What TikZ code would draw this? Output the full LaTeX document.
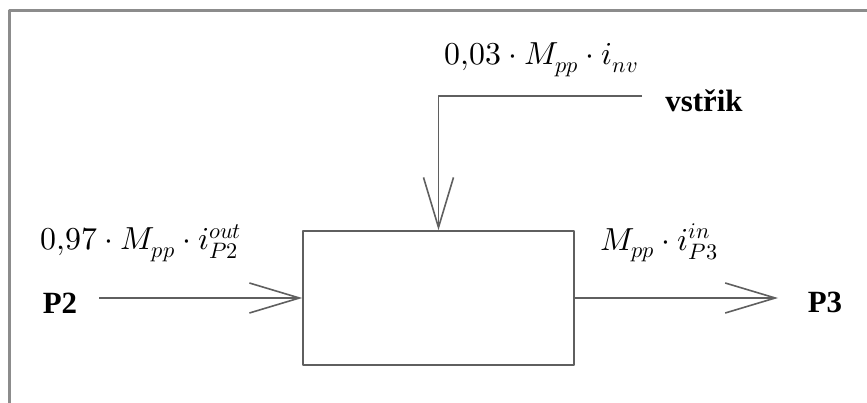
\documentclass[tikz,border=0pt]{standalone}
\usepackage{fontspec}
\usepackage{unicode-math}
\setmainfont{Liberation Serif}
\setmathfont{Latin Modern Math}
\usetikzlibrary{arrows.meta}
\definecolor{linegray}{RGB}{95,95,95}
\definecolor{framegray}{RGB}{140,140,140}
\tikzset{
  flow/.style={draw=linegray,line width=1.6bp,-{Straight Barb[length=50bp,width=30bp,line width=1.6bp]}},
  blocknode/.style={draw=linegray,line width=1.6bp,minimum width=271bp,minimum height=134bp,inner sep=0pt},
  portlabel/.style={font=\fontsize{31}{36}\selectfont\bfseries,inner sep=0pt},
  flowlabel/.style={font=\fontsize{32}{38}\selectfont,inner sep=0pt},
}
\begin{document}
\begin{tikzpicture}[line join=bevel,]
\useasboundingbox (0bp,0bp) rectangle (867bp,403bp);
%%
\draw [framegray,line width=3bp] (9bp,0bp) -- (9bp,392bp) -- (867bp,392bp);
%
\node (block) at (438.5bp,105bp) [blocknode] {};
  \node (port_p2) at (60bp,100bp) [portlabel] {P2};
  \node (port_p3) at (825bp,101bp) [portlabel] {P3};
  \node (port_nv) at (704bp,302bp) [portlabel] {vstřik};
  \coordinate (src_p2) at (99bp,105bp);
  \coordinate (dst_p3) at (778bp,105bp);
  \coordinate (src_nv) at (642bp,307bp);
  \coordinate (bend_nv) at (block.north |- src_nv);
%
\node (label_p2) at (141bp,160bp) [flowlabel] {$0{,}97\cdot M_{pp}\cdot i_{P2}^{out}$};
  \node (label_p3) at (659bp,160bp) [flowlabel] {$M_{pp}\cdot i_{P3}^{in}$};
  \node (label_nv) at (541bp,343bp) [flowlabel] {$0{,}03\cdot M_{pp}\cdot i_{nv}$};
%
\draw [flow] (src_p2) -- (block.west);
  \draw [flow] (block.east) -- (dst_p3);
  \draw [flow] (src_nv) -- (bend_nv) -- (block.north);
%
\end{tikzpicture}
\end{document}
